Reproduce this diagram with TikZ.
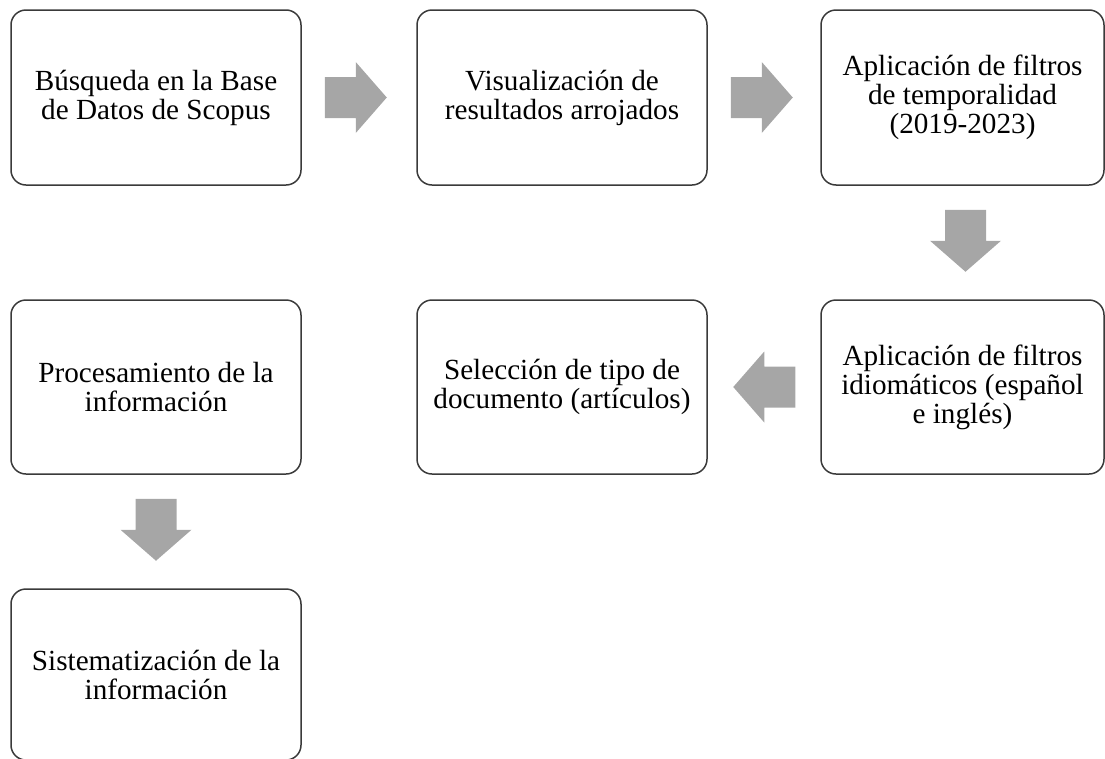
\documentclass[tikz,border=0pt]{standalone}
\usepackage{fontspec}
\setmainfont{Liberation Serif}
\definecolor{arrowgray}{HTML}{A6A6A6}
\definecolor{boxline}{HTML}{3A3A3A}
\begin{document}
\begin{tikzpicture}[x=1pt,y=-1pt,
  stepbox/.style={draw=boxline, line width=1.5pt, rounded corners=15pt, fill=white,
    minimum width=290pt, minimum height=175pt, inner sep=0pt, align=center,
    font=\fontsize{29.2}{29}\selectfont},
  barrow/.pic={\fill[arrowgray] (0,-20.5) -- (31,-20.5) -- (31,-35.5) -- (62,0)
    -- (31,35.5) -- (31,20.5) -- (0,20.5) -- cycle;}
]
\useasboundingbox (0,0) rectangle (1105,758);
\node[stepbox] (b1) at (156,97.5) {Búsqueda en la Base\\de Datos de Scopus};
\node[stepbox] (b2) at (562,97.5) {Visualización de\\resultados arrojados};
\node[stepbox, minimum width=283pt] (b3) at (962.5,97.5) {Aplicación de filtros\\de temporalidad\\(2019-2023)};
\node[stepbox, minimum width=283pt, minimum height=174pt] (b4) at (962.5,387) {Aplicación de filtros\\idiomáticos (español\\e inglés)};
\node[stepbox, minimum height=174pt] (b5) at (562,387) {Selección de tipo de\\documento (artículos)};
\node[stepbox, minimum height=174pt] (b6) at (156,387) {Procesamiento de la\\información};
\node[stepbox, minimum height=171pt] (b7) at (156,674.5) {Sistematización de la\\información};

% block arrows between the steps
\pic at ([xshift=23pt]b1.east) {barrow};
\pic at ([xshift=23pt]b2.east) {barrow};
\pic[rotate=-90] at ([shift={(3,24)}]b3.south) {barrow};
\pic[rotate=180] at ([xshift=-25pt]b4.west) {barrow};
\pic[rotate=-90] at ([shift={(0,24)}]b6.south) {barrow};
\end{tikzpicture}
\end{document}
